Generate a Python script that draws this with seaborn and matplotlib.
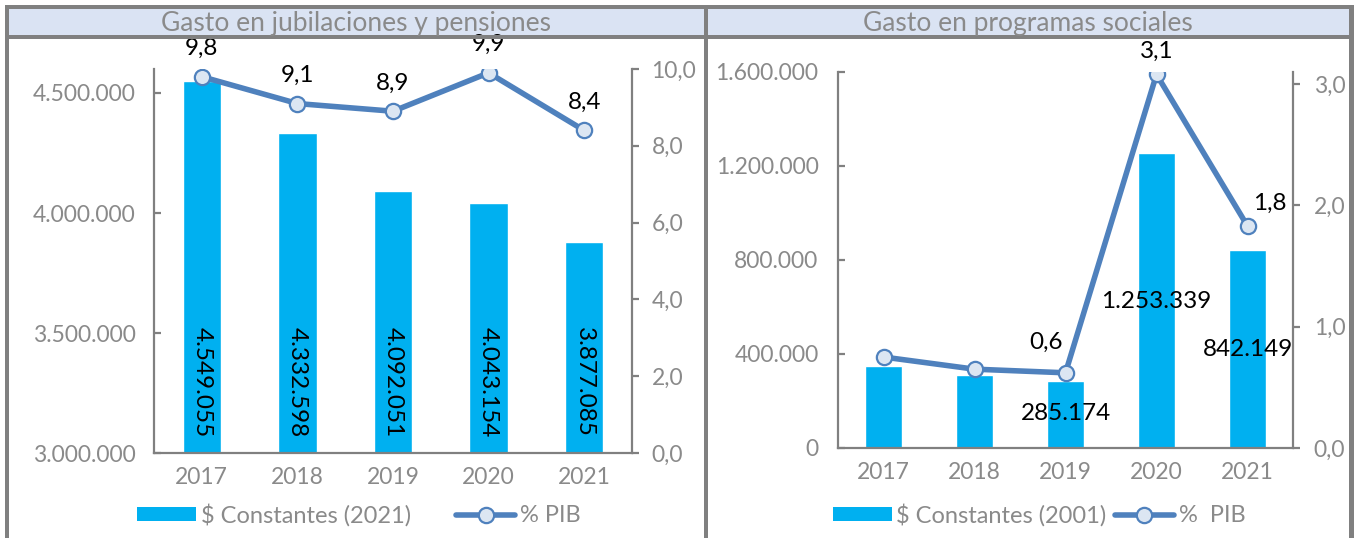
import numpy as np
import pandas as pd
import matplotlib
import matplotlib.pyplot as plt
import seaborn as sns
from matplotlib.lines import Line2D
from matplotlib.patches import Patch, Rectangle

matplotlib.use('Agg')

# Data
years = ['2017', '2018', '2019', '2020', '2021']

pens_titulo = 'Gasto en jubilaciones y pensiones'
pens_constantes = [4549055, 4332598, 4092051, 4043154, 3877085]
pens_pib = [9.8, 9.1, 8.9, 9.9, 8.4]
pens_yticks = [3000000, 3500000, 4000000, 4500000]
pens_y2ticks = [0, 2, 4, 6, 8, 10]
pens_legend = ['$ Constantes (2021)', '% PIB']

soc_titulo = 'Gasto en programas sociales'
soc_constantes = [349000, 311000, 285174, 1253339, 842149]
soc_pib = [0.75, 0.65, 0.62, 3.08, 1.83]
soc_bar_labels = [None, None, '285.174', '1.253.339', '842.149']
soc_pib_labels = [None, None, '0,6', '3,1', '1,8']
soc_yticks = [0, 400000, 800000, 1200000, 1600000]
soc_y2ticks = [0, 1, 2, 3]
soc_legend = ['$ Constantes (2001)', '%  PIB']

BAR = '#00b0f0'
LINE = '#4f81bd'
MFACE = '#dce6f2'
GRAY = '#808080'
TXT = '#8a8a8a'
BAND = '#dae3f3'

W, H = 1354, 538

sns.set_theme(style='white')
plt.rcParams['font.family'] = ['Lato', 'DejaVu Sans']

fig = plt.figure(figsize=(W / 100, H / 100), dpi=100)


def px(x0, y0, x1, y1):
    # pixel box (top-left origin) -> figure fraction rect
    return [x0 / W, 1 - y1 / H, (x1 - x0) / W, (y1 - y0) / H]


def thou(v, pos=None):
    return f"{v:,.0f}".replace(',', '.')


def dec(v, pos=None):
    return f"{v:.1f}".replace('.', ',')


def style_axes(ax, ax2, yticks, y2ticks, ypad, y2pad):
    for s in ['top', 'right']:
        ax.spines[s].set_visible(False)
    for s in ['top', 'left', 'bottom']:
        ax2.spines[s].set_visible(False)
    for sp in [ax.spines['left'], ax.spines['bottom'], ax2.spines['right']]:
        sp.set_color(GRAY)
        sp.set_linewidth(1.6)
    ax.set_yticks(yticks)
    ax.yaxis.set_major_formatter(matplotlib.ticker.FuncFormatter(thou))
    ax2.set_yticks(y2ticks)
    ax2.yaxis.set_major_formatter(matplotlib.ticker.FuncFormatter(dec))
    ax.tick_params(axis='y', direction='in', length=5, width=1.6, color=GRAY,
                   labelcolor=TXT, labelsize=16.5, pad=ypad, left=True)
    ax2.tick_params(axis='y', direction='out', length=5, width=1.6, color=GRAY,
                    labelcolor=TXT, labelsize=16.5, pad=y2pad, right=True)
    ax.tick_params(axis='x', length=0, labelcolor=TXT, labelsize=16.5, pad=10)
    ax.set_xlabel('')
    ax.set_ylabel('')
    ax2.set_xlabel('')
    ax2.set_ylabel('')
    ax.set_xlim(-0.5, len(years) - 0.5)
    ax.patch.set_alpha(0)
    ax2.patch.set_alpha(0)


def draw_panel(rect, values, pib, ylim, y2lim):
    ax = fig.add_axes(rect)
    df = pd.DataFrame({'year': years, 'value': values, 'pib': pib})
    sns.barplot(data=df, x='year', y='value', color=BAR, width=0.4,
                saturation=1, ax=ax, zorder=2)
    ax.set_ylim(*ylim)
    ax2 = ax.twinx()
    sns.lineplot(x=np.arange(len(years)), y=df['pib'], ax=ax2, color=LINE,
                 linewidth=4, marker='o', markersize=11,
                 markerfacecolor=MFACE, markeredgecolor=LINE,
                 markeredgewidth=1.6, zorder=3)
    ax2.set_ylim(*y2lim)
    return ax, ax2


# ---- frame and title bands ----
band = px(5, 5, 1352, 39)
fig.add_artist(Rectangle(band[:2], band[2], band[3], transform=fig.transFigure,
                         facecolor=BAND, edgecolor='none', zorder=0))
for box in [(5, 5, 1352, 9), (5, 35, 1352, 39), (5, 5, 9, 538),
            (704, 5, 708, 538), (1349, 5, 1354, 538)]:
    r = px(*box)
    fig.add_artist(Rectangle(r[:2], r[2], r[3], transform=fig.transFigure,
                             facecolor=GRAY, edgecolor='none', zorder=1))
fig.text(356 / W, 1 - 23 / H, pens_titulo, ha='center', va='center',
         color=TXT, fontsize=19)
fig.text(1028 / W, 1 - 23 / H, soc_titulo, ha='center', va='center',
         color=TXT, fontsize=19)

# ---- left panel: jubilaciones y pensiones ----
axL, axL2 = draw_panel(px(154, 69, 632, 453), pens_constantes, pens_pib,
                       (3000000, 4600000), (0, 10))
style_axes(axL, axL2, pens_yticks, pens_y2ticks, ypad=13, y2pad=9)

for i, v in enumerate(pens_constantes):
    axL.annotate(thou(v), xy=(i, 3000000), xytext=(0, 16),
                 textcoords='offset pixels', rotation=-90, ha='center',
                 va='bottom', fontsize=17.5, color='black', zorder=5)
for i, v in enumerate(pens_pib):
    axL2.annotate(dec(v), xy=(i, v), xytext=(0, 28),
                  textcoords='offset pixels', ha='center', va='center',
                  fontsize=17.5, color='black')

# ---- right panel: programas sociales ----
axR, axR2 = draw_panel(px(838, 72, 1293, 448), soc_constantes, soc_pib,
                       (0, 1600000), (0, 3.1))
style_axes(axR, axR2, soc_yticks, soc_y2ticks, ypad=14, y2pad=10)

bar_lab_offset = [0, 0, -33, -148, -99]
for i, lab in enumerate(soc_bar_labels):
    if lab:
        axR.annotate(lab, xy=(i, soc_constantes[i]),
                     xytext=(0, bar_lab_offset[i]), textcoords='offset pixels',
                     ha='center', va='center', fontsize=17.5, color='black',
                     zorder=5)
pib_lab_offset = [(0, 0), (0, 0), (-19, 30), (0, 23), (22, 23)]
for i, lab in enumerate(soc_pib_labels):
    if lab:
        axR2.annotate(lab, xy=(i, soc_pib[i]), xytext=pib_lab_offset[i],
                      textcoords='offset pixels', ha='center', va='center',
                      fontsize=17.5, color='black')


# ---- legends ----
def make_legend(labels, cx, colspace):
    handles = [Patch(facecolor=BAR, edgecolor='none'),
               Line2D([], [], color=LINE, linewidth=4, marker='o',
                      markersize=11, markerfacecolor=MFACE,
                      markeredgecolor=LINE, markeredgewidth=1.6)]
    leg = fig.legend(handles, labels, loc='center', ncol=2, frameon=False,
                     bbox_to_anchor=(cx / W, 1 - 515 / H), fontsize=17,
                     handlelength=2.5, handletextpad=0.2,
                     columnspacing=colspace, handleheight=0.55)
    for t in leg.get_texts():
        t.set_color(TXT)


make_legend(pens_legend, 359, 1.9)
make_legend(soc_legend, 1039, 0.35)

fig.savefig('out.png', dpi=100)
